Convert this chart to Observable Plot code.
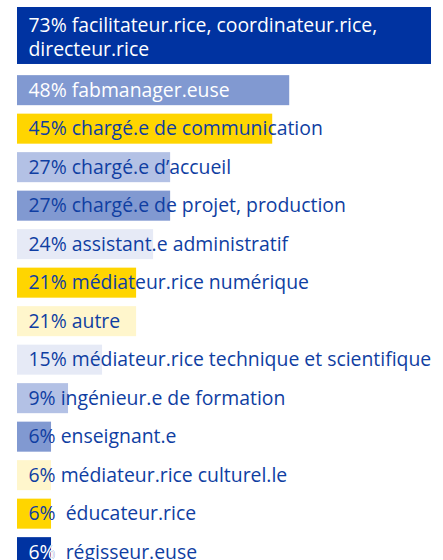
<!DOCTYPE html>
<html>
<head>
<meta charset="utf-8">
<script src="https://cdn.jsdelivr.net/npm/d3@7"></script>
<script src="https://cdn.jsdelivr.net/npm/@observablehq/plot@0.6"></script>
<style>
  html, body { margin: 0; padding: 0; background: #fff; overflow: hidden; }
  svg text { white-space: pre; }
</style>
</head>
<body>
<div id="chart"></div>
<script>
// ---- data ----
const names = [
  "facilitateur.rice, coordinateur.rice, directeur.rice",
  "fabmanager.euse",
  "chargé.e de communication",
  "chargé.e d’accueil",
  "chargé.e de projet, production",
  "assistant.e administratif",
  "médiateur.rice numérique",
  "autre",
  "médiateur.rice technique et scientifique",
  "ingénieur.e de formation",
  "enseignant.e",
  "médiateur.rice culturel.le",
  " éducateur.rice",
  " régisseur.euse"
];
const pcts = [73, 48, 45, 27, 27, 24, 21, 21, 15, 9, 6, 6, 6, 6];
const groups = ["dark", "mid", "yellow", "light", "mid", "pale", "yellow",
  "paleyellow", "pale", "light", "mid", "paleyellow", "yellow", "dark"];

// ---- styles ----
const groupDomain = ["dark", "mid", "light", "pale", "yellow", "paleyellow"];
const groupColors = ["#0033a1", "#8199d1", "#b3c1e5", "#e6eaf6", "#ffd500", "#fff6cc"];
const ink = "#0f3ea2";
const whiteLabelRows = [0, 1];      // rows whose whole label is white
const slotPx = 38.5;
const W = 443, H = 560, mTop = 7;

const rows = names.map((name, i) => {
  const label = `${pcts[i]}% ${name}`;
  return {i, name, pct: pcts[i], group: groups[i], label, lines: label.length > 45 ? 2 : 1};
});
let cursor = 0;
for (const r of rows) {
  r.y1 = cursor;
  r.y2 = cursor + 0.78 + 0.7 * (r.lines - 1);
  r.yc = (r.y1 + r.y2) / 2;
  cursor += 1 + 0.77 * (r.lines - 1);
}
const single = rows.filter(r => r.lines === 1);
const wrapped = rows.filter(r => r.lines > 1);
const fillOf = r => whiteLabelRows.includes(r.i) ? "white" : ink;

const font = {fontFamily: "Open Sans", fontSize: 19.4};

const chart = Plot.plot({
  width: W,
  height: H,
  marginTop: mTop,
  marginBottom: 0,
  marginLeft: 17,
  marginRight: 12,
  style: {fontFamily: "Open Sans", background: "white", overflow: "hidden"},
  x: {domain: [0, d3.max(pcts)], axis: null},
  y: {domain: [0, (H - mTop) / slotPx], reverse: true, axis: null},
  color: {domain: groupDomain, range: groupColors},
  marks: [
    Plot.rectX(rows, {x1: 0, x2: "pct", y1: "y1", y2: "y2", fill: "group"}),
    Plot.text(single, {
      x: 0, y: "yc", text: "label", textAnchor: "start", dx: 11,
      fill: fillOf, ...font
    }),
    Plot.text(wrapped, {
      x: 0, y: "yc", text: "label", textAnchor: "start", dx: 11,
      lineWidth: 24, lineHeight: 1.24, fill: fillOf, ...font
    }),
    // white percentage over dark single-line bars
    Plot.text(single.filter(r => r.group === "dark"), {
      x: 0, y: "yc", text: r => `${r.pct}%`, textAnchor: "start", dx: 11,
      fill: "white", ...font
    })
  ]
});
document.getElementById("chart").appendChild(chart);
</script>
</body>
</html>
